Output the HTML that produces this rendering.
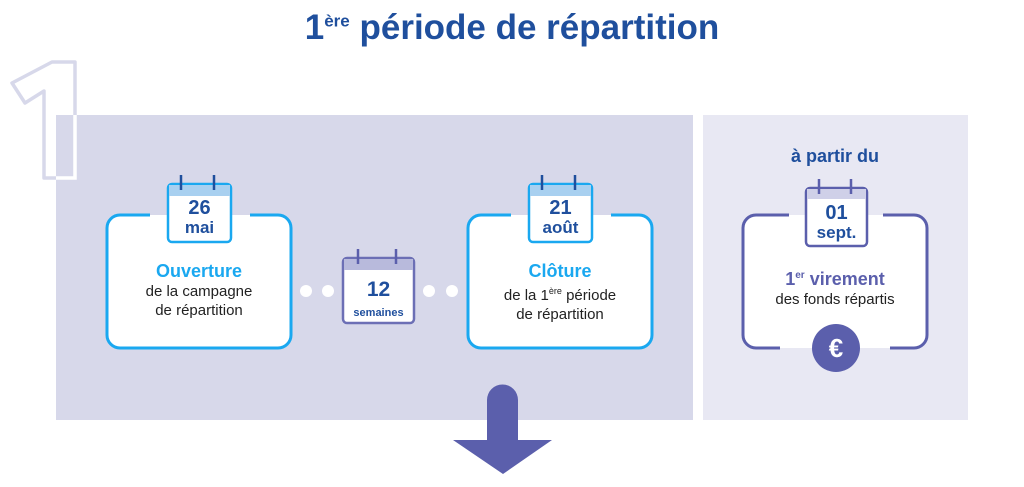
<!DOCTYPE html>
<html><head><meta charset="utf-8"><style>
body{margin:0;width:1024px;height:487px;background:#fff;position:relative;overflow:hidden;font-family:"Liberation Sans",sans-serif}
.a{position:absolute}
.title{left:0;width:1024px;top:8px;text-align:center;font-size:35px;font-weight:bold;color:#1f4f9d}
.t{position:absolute;text-align:center;font-size:15px;color:#222;line-height:19px}
.h{font-weight:bold;font-size:18px}
</style></head><body>
<div class="a title">1<sup style="font-size:17px">ère</sup> période de répartition</div>
<svg class="a" style="left:0;top:0" width="1024" height="487">
<defs><clipPath id="in"><rect x="56" y="115" width="200" height="200"/></clipPath></defs>
<rect x="56" y="115" width="637" height="305" fill="#d7d8ea"/>
<rect x="703" y="115" width="265" height="305" fill="#e8e8f3"/>
<line x1="698" y1="115" x2="698" y2="420" stroke="#fff" stroke-width="6" stroke-dasharray="8,7"/>
<path d="M12 83 L52 62 L75 62 L75 178 L44 178 L44 91 L25 103 Z" fill="none" stroke="#d7d8ea" stroke-width="3.5" stroke-linejoin="round"/>
<path d="M12 83 L52 62 L75 62 L75 178 L44 178 L44 91 L25 103 Z" fill="none" stroke="#fff" stroke-width="3.5" clip-path="url(#in)"/>
<rect x="107" y="215" width="184" height="133" rx="13" fill="#fff" stroke="#1aa8f0" stroke-width="3"/>
<rect x="468" y="215" width="184" height="133" rx="13" fill="#fff" stroke="#1aa8f0" stroke-width="3"/>
<rect x="743" y="215" width="184" height="133" rx="13" fill="#fff" stroke="#5b5fac" stroke-width="3"/>
<rect x="150" y="212" width="100" height="3" fill="#d7d8ea"/><rect x="150" y="215" width="100" height="3" fill="#fff"/>
<rect x="511" y="212" width="100" height="3" fill="#d7d8ea"/><rect x="511" y="215" width="100" height="3" fill="#fff"/>
<rect x="789" y="212" width="94" height="3" fill="#e8e8f3"/><rect x="789" y="215" width="94" height="3" fill="#fff"/>
<rect x="780" y="345" width="110" height="3" fill="#fff"/><rect x="780" y="348" width="110" height="3" fill="#e8e8f3"/>
<g stroke-width="2.5">
<rect x="168" y="184" width="63" height="58" rx="4" fill="#fff" stroke="#1aa8f0"/>
<rect x="169" y="185" width="61" height="11" fill="#a8d0f0"/>
<line x1="181" y1="175" x2="181" y2="190" stroke="#1f4f9d"/><line x1="214" y1="175" x2="214" y2="190" stroke="#1f4f9d"/>
<rect x="529" y="184" width="63" height="58" rx="4" fill="#fff" stroke="#1aa8f0"/>
<rect x="530" y="185" width="61" height="11" fill="#a8d0f0"/>
<line x1="542" y1="175" x2="542" y2="190" stroke="#1f4f9d"/><line x1="575" y1="175" x2="575" y2="190" stroke="#1f4f9d"/>
<rect x="343" y="258" width="71" height="65" rx="4" fill="#fff" stroke="#6c6fb5"/>
<rect x="344" y="259" width="69" height="11" fill="#b8badc"/>
<line x1="358" y1="249" x2="358" y2="264" stroke="#5b5fac"/><line x1="396" y1="249" x2="396" y2="264" stroke="#5b5fac"/>
<rect x="806" y="188" width="61" height="58" rx="4" fill="#fff" stroke="#5b5fac"/>
<rect x="807" y="189" width="59" height="10" fill="#cfd0e8"/>
<line x1="819" y1="179" x2="819" y2="194" stroke="#5b5fac"/><line x1="851" y1="179" x2="851" y2="194" stroke="#5b5fac"/>
</g>
<g fill="#fff"><circle cx="306" cy="291" r="6"/><circle cx="328" cy="291" r="6"/><circle cx="429" cy="291" r="6"/><circle cx="452" cy="291" r="6"/></g>
<circle cx="836" cy="348" r="24" fill="#5b5fac"/>
<text x="836" y="357" text-anchor="middle" font-family="Liberation Sans" font-weight="bold" font-size="26" fill="#fff">€</text>
<path d="M487 400 A15.5 15.5 0 0 1 518 400 L518 440 L552 440 L503 474 L453 440 L487 440 Z" fill="#5b5fac"/>
</svg>
<div class="t" style="left:168px;width:63px;top:199px;color:#1f4f9d;font-weight:bold;font-size:20px;line-height:19px">26<br><span style="font-size:17px">mai</span></div>
<div class="t" style="left:529px;width:63px;top:199px;color:#1f4f9d;font-weight:bold;font-size:20px;line-height:19px">21<br><span style="font-size:17px">août</span></div>
<div class="t" style="left:806px;width:61px;top:204px;color:#1f4f9d;font-weight:bold;font-size:20px;line-height:19px">01<br><span style="font-size:17px">sept.</span></div>
<div class="t" style="left:343px;width:71px;top:280px;color:#1f4f9d;font-weight:bold;font-size:21px;line-height:20px">12<br><span style="font-size:11px">semaines</span></div>
<div class="t" style="left:107px;width:184px;top:262px"><span class="h" style="color:#1aa8f0">Ouverture</span><br>de la campagne<br>de répartition</div>
<div class="t" style="left:468px;width:184px;top:262px"><span class="h" style="color:#1aa8f0">Clôture</span><br>de la 1<sup style="font-size:9px">ère</sup> période<br>de répartition</div>
<div class="t" style="left:743px;width:184px;top:266px"><span class="h" style="color:#5b5fac">1<sup style="font-size:10px">er</sup> virement</span><br>des fonds répartis</div>
<div class="t" style="left:743px;width:184px;top:147px;color:#1f4f9d;font-weight:bold;font-size:18px">à partir du</div>
</body></html>
